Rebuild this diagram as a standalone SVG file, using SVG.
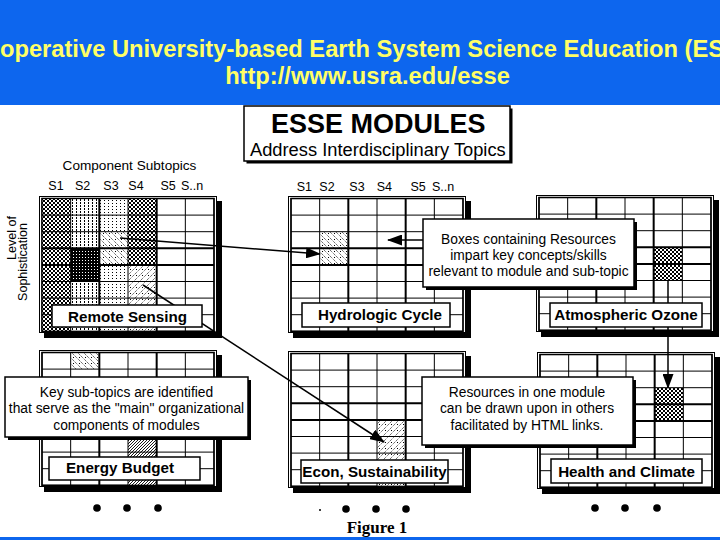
<svg xmlns="http://www.w3.org/2000/svg" width="720" height="540" viewBox="0 0 720 540">
<style>
text{font-family:"Liberation Sans",Arial,Helvetica,sans-serif;fill:#000}
text.fig{font-family:"Liberation Serif","Times New Roman",serif;font-weight:bold;font-size:17px;text-anchor:middle}
.hdr{font-weight:bold;font-size:23.7px;fill:#ffff66}
.lbl{font-weight:bold;font-size:15.2px;text-anchor:middle}
.box{fill:#fff;stroke:#000;stroke-width:1.5}
.sh{fill:#000}
.co{font-size:13.8px;text-anchor:middle}
.sub{font-size:12.5px}
.conn{stroke:#000;stroke-width:1.5;fill:none;marker-end:url(#arrow)}
</style>
<defs>
<marker id="arrow" markerUnits="userSpaceOnUse" markerWidth="15" markerHeight="11" refX="14" refY="5.5" orient="auto">
<path d="M0,0 L15,5.5 L0,11 z" fill="#000"/>
</marker>
<pattern id="pCheck" width="4" height="4" patternUnits="userSpaceOnUse"><rect width="4" height="4" fill="#fff"/><rect width="2" height="2" fill="#000"/><rect x="2" y="2" width="2" height="2" fill="#000"/></pattern>
<pattern id="pStripe" width="4" height="3" patternUnits="userSpaceOnUse"><rect width="4" height="3" fill="#fff"/><rect x="1" width="1" height="2" fill="#000"/></pattern>
<pattern id="pDark" width="3" height="3" patternUnits="userSpaceOnUse"><rect width="3" height="3" fill="#000"/><rect x="1" y="1" width="1" height="1" fill="#fff"/></pattern>
<pattern id="pDots" width="4" height="3" patternUnits="userSpaceOnUse"><rect width="4" height="3" fill="#fff"/><rect x="1" y="1" width="1" height="1" fill="#000"/></pattern>
<pattern id="pHatchB" width="6" height="6" patternUnits="userSpaceOnUse"><rect width="6" height="6" fill="#fff"/><path d="M0,0 L6,6" stroke="#000" stroke-width="0.8" stroke-dasharray="1,1"/><rect x="4" y="1" width="1" height="1" fill="#000"/></pattern>
<pattern id="pHatchF" width="6" height="6" patternUnits="userSpaceOnUse"><rect width="6" height="6" fill="#fff"/><path d="M0,6 L6,0" stroke="#000" stroke-width="0.8" stroke-dasharray="1,1"/><rect x="1" y="1" width="1" height="1" fill="#000"/></pattern>
<pattern id="pDense" width="3" height="3" patternUnits="userSpaceOnUse"><rect width="3" height="3" fill="#fff"/><path d="M0,3 L3,0" stroke="#000" stroke-width="0.9"/></pattern>
<g id="frame">
<rect x="5" y="5" width="178" height="137" fill="#000"/>
<rect x="0.5" y="0.5" width="177" height="136" fill="#fff" stroke="#000" stroke-width="1"/>
<rect x="3" y="2.5" width="172" height="132.8" fill="#fff" stroke="#000" stroke-width="1.3"/>
</g>
<g id="grid" stroke="#000" fill="none">
<path stroke-width="1" d="M31.67,2.5V135.3M89,2.5V135.3M146.33,2.5V135.3M3,19.1H175M3,35.7H175M3,85.5H175M3,102.1H175M3,118.7H175"/>
<path stroke-width="2" d="M60.33,2.5V135.3M117.67,2.5V135.3M3,52.3H175M3,68.9H175"/>
<rect x="3" y="2.5" width="172" height="132.8" stroke-width="1.3"/>
</g>
</defs>

<rect width="720" height="540" fill="#fff"/>
<g id="header">
<rect x="0" y="0" width="720" height="105" fill="#0d66ee"/>
<text class="hdr" x="-31.6" y="57">Cooperative University-based Earth System Science Education (ESSE)</text>
<text class="hdr" x="367.5" y="84" text-anchor="middle">http://www.usra.edu/esse</text>
<rect x="0" y="537" width="720" height="3" fill="#0d66ee"/>
</g>

<g id="title-box">
<rect class="sh" x="246.5" y="108.5" width="266" height="55"/>
<rect class="box" x="244" y="106" width="266" height="55"/>
<text x="271" y="133" font-weight="bold" font-size="27">ESSE MODULES</text>
<text x="250" y="155.5" font-size="18.3">Address Interdisciplinary Topics</text>
</g>

<g id="axis-labels">
<text x="129.5" y="170" font-size="13.6" text-anchor="middle">Component Subtopics</text>
<text class="sub" y="190"><tspan x="48.3">S1</tspan><tspan x="75">S2</tspan><tspan x="103.3">S3</tspan><tspan x="128.3">S4</tspan><tspan x="160.5">S5</tspan><tspan x="181">S..n</tspan></text>
<text class="sub" y="190.5"><tspan x="296.7">S1</tspan><tspan x="319.3">S2</tspan><tspan x="349.3">S3</tspan><tspan x="376.7">S4</tspan><tspan x="410.5">S5</tspan><tspan x="432">S..n</tspan></text>
<text font-size="12.5" transform="translate(15.5,238) rotate(-90)" text-anchor="middle">Level of</text>
<text font-size="12.5" transform="translate(27,262) rotate(-90)" text-anchor="middle">Sophistication</text>
</g>

<g id="module-remote-sensing" transform="translate(39,196)">
<use href="#frame"/>
<rect x="3" y="2.5" width="28.67" height="132.8" fill="url(#pCheck)"/>
<rect x="31.67" y="2.5" width="28.67" height="49.8" fill="url(#pStripe)"/>
<rect x="31.67" y="52.3" width="28.67" height="33.2" fill="url(#pDark)"/>
<rect x="31.67" y="85.5" width="28.67" height="49.8" fill="url(#pStripe)"/>
<rect x="60.33" y="2.5" width="28.67" height="33.2" fill="url(#pDots)"/>
<rect x="60.33" y="35.7" width="28.67" height="33.2" fill="url(#pHatchB)"/>
<rect x="60.33" y="68.9" width="28.67" height="66.4" fill="url(#pDots)"/>
<rect x="89" y="2.5" width="28.67" height="66.4" fill="url(#pCheck)"/>
<rect x="89" y="68.9" width="28.67" height="66.4" fill="url(#pHatchF)"/>
<use href="#grid"/>
</g>

<g id="module-hydrologic-cycle" transform="translate(288,196)">
<use href="#frame"/>
<rect x="31.67" y="35.7" width="28.67" height="33.2" fill="url(#pHatchB)"/>
<use href="#grid"/>
</g>

<g id="module-atmospheric-ozone" transform="translate(536,195)">
<use href="#frame"/>
<rect x="117.67" y="52.3" width="28.67" height="33.2" fill="url(#pCheck)"/>
<use href="#grid"/>
</g>

<g id="module-energy-budget" transform="translate(39,350)">
<use href="#frame"/>
<rect x="31.67" y="2.5" width="28.67" height="16.6" fill="url(#pHatchB)"/>
<rect x="89" y="85.5" width="28.67" height="49.8" fill="url(#pDense)"/>
<use href="#grid"/>
</g>

<g id="module-econ-sustainability" transform="translate(288,351)">
<use href="#frame"/>
<rect x="89" y="68.9" width="28.67" height="66.4" fill="url(#pHatchF)"/>
<use href="#grid"/>
</g>

<g id="module-health-climate" transform="translate(537,352)">
<use href="#frame"/>
<rect x="117.67" y="35.7" width="28.67" height="33.2" fill="url(#pCheck)"/>
<use href="#grid"/>
</g>

<g id="connectors">
<line class="conn" x1="120" y1="238" x2="320" y2="254"/>
<line class="conn" x1="143" y1="285" x2="384" y2="442"/>
<line class="conn" x1="423" y1="240" x2="388" y2="240"/>
<line class="conn" x1="668" y1="281" x2="668" y2="388"/>
</g>

<g id="label-remote-sensing">
<rect class="box" x="52" y="305" width="150" height="22"/>
<text class="lbl" x="127.5" y="321.5">Remote Sensing</text>
</g>
<g id="label-hydrologic-cycle">
<rect class="box" x="302" y="303" width="148" height="24"/>
<text class="lbl" x="380" y="320">Hydrologic Cycle</text>
</g>
<g id="label-atmospheric-ozone">
<rect class="box" x="550" y="303" width="152" height="24"/>
<text class="lbl" x="626" y="319.5">Atmospheric Ozone</text>
</g>
<g id="label-energy-budget">
<rect class="box" x="49" y="457" width="151" height="23"/>
<text class="lbl" x="120" y="473">Energy Budget</text>
</g>
<g id="label-econ-sustainability">
<rect class="box" x="301" y="460" width="147" height="23"/>
<text class="lbl" x="374.5" y="477">Econ, Sustainability</text>
</g>
<g id="label-health-climate">
<rect class="box" x="551" y="459" width="151" height="24"/>
<text class="lbl" x="626.5" y="477">Health and Climate</text>
</g>

<g id="callout-resource-boxes">
<rect class="sh" x="426" y="222" width="211" height="68"/>
<rect class="box" x="423" y="219" width="211" height="68"/>
<text class="co" x="528.5" y="243.5">Boxes containing Resources</text>
<text class="co" x="528.5" y="259.5">impart key concepts/skills</text>
<text class="co" x="528.5" y="275.5">relevant to module and sub-topic</text>
</g>

<g id="callout-key-subtopics">
<rect class="sh" x="8" y="380" width="243" height="60"/>
<rect class="box" x="5" y="377" width="243" height="60"/>
<text class="co" x="126.5" y="396.5">Key sub-topics are identified</text>
<text class="co" x="126.5" y="413">that serve as the "main" organizational</text>
<text class="co" x="126.5" y="429.5">components of modules</text>
</g>

<g id="callout-linking">
<rect class="sh" x="425" y="380" width="211" height="68"/>
<rect class="box" x="422" y="377" width="211" height="68"/>
<text class="co" x="527" y="396.5">Resources in one module</text>
<text class="co" x="527" y="413">can be drawn upon in others</text>
<text class="co" x="527" y="429.5">facilitated by HTML links.</text>
</g>

<g id="ellipses" fill="#000">
<circle cx="97" cy="508" r="3.8"/><circle cx="127" cy="508" r="3.8"/><circle cx="158" cy="508" r="3.8"/>
<circle cx="320" cy="510" r="1"/><circle cx="346" cy="509" r="3.8"/><circle cx="376" cy="509" r="3.8"/><circle cx="406" cy="509" r="3.8"/>
<circle cx="595" cy="508" r="3.8"/><circle cx="625" cy="508" r="3.8"/><circle cx="657" cy="508" r="3.8"/>
</g>

<text class="fig" x="377" y="533">Figure 1</text>
</svg>
